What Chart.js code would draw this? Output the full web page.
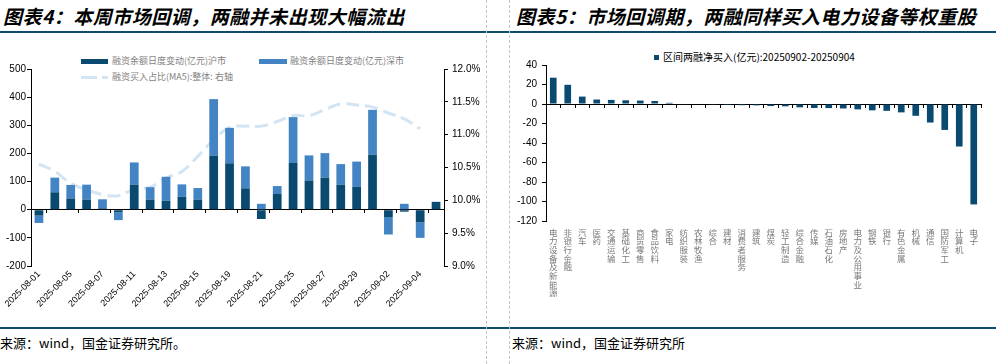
<!DOCTYPE html>
<html>
<head>
<meta charset="utf-8">
<script src="https://cdn.jsdelivr.net/npm/chart.js@4.4.1/dist/chart.umd.min.js"></script>
<style>
  html, body { margin: 0; padding: 0; background: #fff; }
  body { position: relative; width: 996px; height: 364px; overflow: hidden; font-family: "Noto Sans CJK SC", sans-serif; }
  .title { position: absolute; top: 3px; font-size: 19px; line-height: 26px; font-weight: 700; font-style: italic; color: #000; letter-spacing: 0.5px; white-space: nowrap; }
  .hline { position: absolute; left: 0; width: 996px; height: 2px; background: #0e4a6e; }
  .vdash { position: absolute; top: 0; width: 0; height: 364px; border-left: 1px dashed #c4c4c4; }
  .src { position: absolute; top: 334px; font-size: 13px; line-height: 18px; color: #000; white-space: nowrap; }
  .leg { position: absolute; font-size: 9px; line-height: 12px; color: #7f7f7f; white-space: nowrap; }
  .sw { position: absolute; }
  canvas { position: absolute; }
</style>
</head>
<body>
<div class="title" style="left:3px">图表4：本周市场回调，两融并未出现大幅流出</div>
<div class="title" style="left:516px">图表5：市场回调期，两融同样买入电力设备等权重股</div>
<div class="hline" style="top:31px"></div>
<div class="hline" style="top:327px"></div>
<div class="vdash" style="left:486px"></div>
<div class="vdash" style="left:509px"></div>

<div class="sw" style="left:81px;top:59px;width:27px;height:5px;background:#0b4a70"></div>
<div class="leg" style="left:112px;top:55px">融资余额日度变动(亿元)沪市</div>
<div class="sw" style="left:259px;top:59px;width:28px;height:5px;background:#4284c4"></div>
<div class="leg" style="left:290px;top:55px">融资余额日度变动(亿元)深市</div>
<div class="sw" style="left:81px;top:76px;width:27px;height:3px;background:linear-gradient(to right,#d3e4f3 0 16px,transparent 16px 21px,#d3e4f3 21px 27px)"></div>
<div class="leg" style="left:112px;top:71px">融资买入占比(MA5):整体: 右轴</div>

<div class="sw" style="left:654px;top:55px;width:5px;height:5px;background:#0b4a70"></div>
<div class="leg" style="left:663px;top:51px;font-size:10px;color:#000">区间两融净买入(亿元):20250902-20250904</div>

<canvas id="c1" width="486" height="280" style="left:0;top:40px"></canvas>
<canvas id="c2" width="496" height="290" style="left:500px;top:40px"></canvas>

<div class="src" style="left:0">来源：wind，国金证券研究所。</div>
<div class="src" style="left:512px">来源：wind，国金证券研究所</div>

<script>
// left chart data
const dates = ['2025-08-01', '2025-08-04', '2025-08-05', '2025-08-06', '2025-08-07', '2025-08-08',
  '2025-08-11', '2025-08-12', '2025-08-13', '2025-08-14', '2025-08-15', '2025-08-18', '2025-08-19',
  '2025-08-20', '2025-08-21', '2025-08-22', '2025-08-25', '2025-08-26', '2025-08-27', '2025-08-28',
  '2025-08-29', '2025-09-01', '2025-09-02', '2025-09-03', '2025-09-04', '2025-09-05'];
const shChange = [-21, 62, 40, 36, 5, -9, 89, 36, 32, 46, 36, 192, 165, 76, -33, 56, 166, 104, 114, 89, 81, 195, -26, -7, -45, 28];
const szChange = [-26, 52, 48, 53, 32, -28, 79, 44, 85, 44, 41, 201, 126, 78, 21, 28, 163, 89, 87, 73, 90, 160, -62, 21, -55, 0];
const buyRatioMA5 = [10.55, 10.44, 10.26, 10.16, 10.09, 10.07, 10.17, 10.20, 10.34, 10.44, 10.67, 10.92, 11.11,
  11.13, 11.13, 11.20, 11.29, 11.29, 11.38, 11.47, 11.45, 11.42, 11.33, 11.24, 11.09, null];

// right chart data
const industries = ['电力设备及新能源', '非银行金融', '汽车', '医药', '交通运输', '基础化工', '商贸零售', '食品饮料',
  '家电', '纺织服装', '农林牧渔', '综合', '建材', '消费者服务', '建筑', '煤炭', '轻工制造', '综合金融', '传媒',
  '石油石化', '房地产', '电力及公用事业', '钢铁', '银行', '有色金属', '机械', '通信', '国防军工', '计算机', '电子'];
const netBuy = [27.0, 19.7, 7.6, 4.6, 4.2, 3.8, 3.5, 3.1, 1.2, -0.3, -0.6, -0.8, -1.0, -1.2, -1.4, -2.1, -2.4,
  -3.4, -4.1, -4.2, -4.6, -5.5, -6.5, -7.0, -8.6, -12.1, -19.0, -26.6, -43.6, -103.0];

const DARK = '#0b4a70';
const LIGHT = '#4284c4';
const LINE = '#d3e4f3';
const NUM_FONT = 'Liberation Sans, Arial, sans-serif';

new Chart(document.getElementById('c1'), {
  type: 'bar',
  data: {
    labels: dates,
    datasets: [
      { label: '融资余额日度变动(亿元)沪市', data: shChange, backgroundColor: DARK, yAxisID: 'y', stack: 's',
        barPercentage: 0.55, categoryPercentage: 1 },
      { label: '融资余额日度变动(亿元)深市', data: szChange, backgroundColor: LIGHT, yAxisID: 'y', stack: 's',
        barPercentage: 0.55, categoryPercentage: 1 },
      { type: 'line', label: '融资买入占比(MA5):整体: 右轴', data: buyRatioMA5, yAxisID: 'y1',
        borderColor: LINE, borderWidth: 3, borderDash: [13, 6], pointRadius: 0, tension: 0.4, fill: false }
    ]
  },
  options: {
    responsive: false,
    animation: false,
    devicePixelRatio: 1,
    layout: { padding: { top: 29, left: 0, right: 0, bottom: 0 }, autoPadding: false },
    plugins: { legend: { display: false }, tooltip: { enabled: false } },
    scales: {
      x: {
        stacked: true,
        grid: { display: false, drawTicks: false },
        border: { display: false },
        ticks: {
          autoSkip: false, minRotation: 45, maxRotation: 45, padding: 3, color: '#000',
          font: { family: NUM_FONT, size: 9 },
          callback: function (v, i) { return i % 2 === 0 ? this.getLabelForValue(v) : ''; }
        },
        afterFit: function (s) { s.height = 54; }
      },
      x0: {
        type: 'category', axis: 'x', position: { y: 0 }, offset: true,
        grid: { offset: true, drawOnChartArea: false, tickLength: 3,
          color: function (ctx) { return ctx.index % 2 === 1 ? '#000' : 'rgba(0,0,0,0)'; } },
        border: { color: '#000', width: 1 },
        ticks: { display: false }
      },
      y: {
        stacked: true, position: 'left', min: -200, max: 500,
        ticks: { stepSize: 100, padding: 1, color: '#000', font: { family: NUM_FONT, size: 10 } },
        grid: { drawOnChartArea: false, tickLength: 4, color: '#000' },
        border: { color: '#000' },
        afterFit: function (s) { s.width = 31; }
      },
      y1: {
        position: 'right', min: 9, max: 12,
        ticks: { stepSize: 0.5, padding: 4, color: '#000', font: { family: NUM_FONT, size: 10 },
          callback: function (v) { return v.toFixed(1) + '%'; } },
        grid: { drawOnChartArea: false, tickLength: 4, color: '#000' },
        border: { color: '#000' },
        afterFit: function (s) { s.width = 42; }
      }
    }
  }
});

new Chart(document.getElementById('c2'), {
  type: 'bar',
  data: {
    labels: industries,
    datasets: [
      { label: '区间两融净买入(亿元):20250902-20250904', data: netBuy, backgroundColor: DARK,
        barPercentage: 0.46, categoryPercentage: 1 }
    ]
  },
  options: {
    responsive: false,
    animation: false,
    devicePixelRatio: 1,
    layout: { padding: { top: 25, left: 0, right: 15, bottom: 0 }, autoPadding: false },
    plugins: { legend: { display: false }, tooltip: { enabled: false } },
    scales: {
      x: {
        grid: { display: false, drawTicks: false },
        border: { display: false },
        ticks: {
          autoSkip: false, minRotation: 0, maxRotation: 0, padding: 7, color: '#7a7a7a',
          font: { family: 'Noto Sans CJK SC', size: 8.5, lineHeight: 1.02 },
          callback: function (v) { return this.getLabelForValue(v).split(''); }
        },
        afterFit: function (s) { s.height = 109; }
      },
      x0: {
        type: 'category', axis: 'x', position: { y: 0 }, offset: true,
        grid: { offset: true, drawOnChartArea: false, tickLength: 3, color: '#000' },
        border: { color: '#000', width: 1 },
        ticks: { display: false }
      },
      y: {
        min: -120, max: 40,
        ticks: { stepSize: 20, padding: 5, color: '#000', font: { family: NUM_FONT, size: 10 } },
        grid: { drawOnChartArea: false, tickLength: 4, color: '#000' },
        border: { color: '#000' },
        afterFit: function (s) { s.width = 46; }
      }
    }
  }
});
</script>
</body>
</html>
